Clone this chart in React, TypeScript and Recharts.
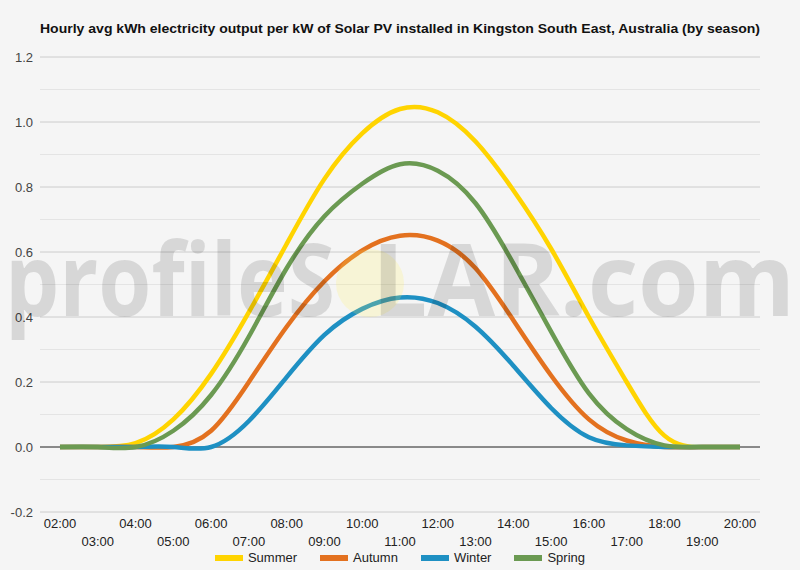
import React from 'react';
import { LineChart, Line, XAxis, YAxis, CartesianGrid, ReferenceLine } from 'recharts';

const hours = ['02:00','03:00','04:00','05:00','06:00','07:00','08:00','09:00','10:00','11:00','12:00','13:00','14:00','15:00','16:00','17:00','18:00','19:00','20:00'];
const summer = [0, 0, 0.012, 0.085, 0.225, 0.415, 0.625, 0.825, 0.965, 1.04, 1.03, 0.94, 0.79, 0.61, 0.40, 0.20, 0.035, 0, 0];
const autumn = [0, 0, 0, 0, 0.05, 0.20, 0.37, 0.51, 0.605, 0.65, 0.635, 0.55, 0.39, 0.22, 0.085, 0.02, 0, 0, 0];
const winter = [0, 0, 0, 0, 0, 0.08, 0.215, 0.345, 0.425, 0.46, 0.443, 0.37, 0.25, 0.12, 0.03, 0.005, 0, 0, 0];
const spring = [0, 0, 0, 0.05, 0.16, 0.34, 0.55, 0.71, 0.81, 0.87, 0.85, 0.75, 0.565, 0.355, 0.165, 0.055, 0.005, 0, 0];

const yTicks = [-0.2, 0, 0.2, 0.4, 0.6, 0.8, 1.0, 1.2];
const yMinor = [-0.1, 0.1, 0.3, 0.5, 0.7, 0.9, 1.1];

const series = [
  { key: 'Summer', color: '#FFD400', values: summer },
  { key: 'Autumn', color: '#E3711F', values: autumn },
  { key: 'Winter', color: '#1E90C3', values: winter },
  { key: 'Spring', color: '#6B9A52', values: spring },
];

const data = hours.map((h, i) => {
  const row: any = { hour: h };
  series.forEach(s => { row[s.key] = s.values[i]; });
  return row;
});

const FONT = '"Liberation Sans", Arial, sans-serif';

const XTick = (props: any) => {
  const { x, y, payload, index } = props;
  const i = typeof index === 'number' ? index : hours.indexOf(payload.value);
  return (
    <text x={x} y={y + (i % 2 === 0 ? 16 : 34)} textAnchor="middle" fontFamily={FONT} fontSize={13} fill="#222">
      {payload.value}
    </text>
  );
};

const YTick = (props: any) => {
  const { y, payload } = props;
  return (
    <text x={33} y={y + 5} textAnchor="end" fontFamily={FONT} fontSize={13} fill="#444">
      {Number(payload.value).toFixed(1)}
    </text>
  );
};

export default function App() {
  return (
    <div style={{ position: 'absolute', left: 0, top: 0, width: 800, height: 570, background: '#f5f5f5', overflow: 'hidden' }}>
      <svg width={800} height={40} style={{ position: 'absolute', left: 0, top: 0 }}>
        <text x={400} y={33} textAnchor="middle" fontFamily={FONT} fontWeight="bold" fontSize={13} fill="#111" textLength={720} lengthAdjust="spacingAndGlyphs">
          Hourly avg kWh electricity output per kW of Solar PV installed in Kingston South East, Australia (by season)
        </text>
      </svg>
      <div style={{ position: 'absolute', left: 0, top: 0 }}>
        <LineChart width={800} height={570} data={data} margin={{ top: 57, right: 40, bottom: 18, left: 0 }}>
          <CartesianGrid vertical={false} stroke="#cccccc" />
          {yMinor.map(v => (
            <ReferenceLine key={v} y={v} stroke="#e4e4e4" strokeWidth={1} />
          ))}
          <ReferenceLine y={0} stroke="#333" strokeWidth={1} />
          <XAxis dataKey="hour" interval={0} tick={<XTick />} tickLine={false} axisLine={false} tickSize={0} tickMargin={0} height={40} padding={{ left: 20, right: 20 }} />
          <YAxis domain={[-0.2, 1.2]} ticks={yTicks} tick={<YTick />} tickLine={false} axisLine={false} width={40} allowDataOverflow />
          {series.map(s => (
            <Line key={s.key} type="natural" dataKey={s.key} stroke={s.color} strokeWidth={4.5} dot={false} activeDot={false} isAnimationActive={false} />
          ))}
        </LineChart>
      </div>
      <svg width={800} height={570} style={{ position: 'absolute', left: 0, top: 0, pointerEvents: 'none' }}>
        <text x={5} y={316} fontFamily='"Open Sans", sans-serif' fontWeight={700} fontSize={100} fill="rgba(0,0,0,0.12)" textLength={330} lengthAdjust="spacingAndGlyphs">profileS</text>
        <circle cx={370} cy={283} r={34} fill="rgba(255,238,90,0.2)" />
        <text x={372} y={316} fontFamily='"Open Sans", sans-serif' fontWeight={700} fontSize={100} fill="rgba(0,0,0,0.12)" textLength={423} lengthAdjust="spacingAndGlyphs">LAR.com</text>
      </svg>
      <div style={{ position: 'absolute', left: 0, top: 550, width: 800, display: 'flex', justifyContent: 'center', gap: 23, fontFamily: FONT, fontSize: 13, color: '#222' }}>
        {series.map(s => (
          <div key={s.key} style={{ display: 'flex', alignItems: 'center' }}>
            <span style={{ display: 'inline-block', width: 28, height: 6, background: s.color, marginRight: 5 }} />
            <span>{s.key}</span>
          </div>
        ))}
      </div>
    </div>
  );
}
